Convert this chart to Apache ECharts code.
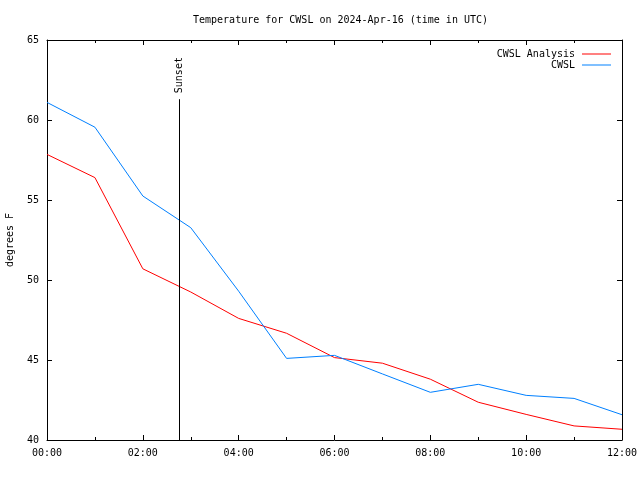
<!DOCTYPE html>
<html>
<head>
<meta charset="utf-8">
<script src="https://cdn.jsdelivr.net/npm/echarts@6/dist/echarts.min.js"></script>
<style>html,body{margin:0;padding:0;background:#fff}#c{width:640px;height:480px}</style>
</head>
<body>
<div id="c"></div>
<script>
var hours = [0,1,2,3,4,5,6,7,8,9,10,11,12];
var analysis = [57.85,56.4,50.7,49.25,47.6,46.67,45.15,44.8,43.8,42.36,41.6,40.88,40.67];
var observed = [61.1,59.55,55.25,53.27,49.3,45.1,45.29,44.13,42.98,43.48,42.79,42.6,41.58];
var sunsetHour = 2.76;
var sunsetTop = 61.3;
var titleText = 'Temperature for CWSL on 2024-Apr-16 (time in UTC)';
var FONT = 'DejaVu Sans Mono';

function pairs(ys){ return hours.map(function(h,i){ return [h, ys[i]]; }); }
function fmt(v){ var h = Math.round(v); return (h<10?'0':'')+h+':00'; }

var axisCommon = {
  axisLine:{show:true, onZero:false, lineStyle:{color:'#000', width:1}},
  axisTick:{show:true, inside:true, length:5, lineStyle:{color:'#000'}},
  splitLine:{show:false}
};

var chart = echarts.init(document.getElementById('c'), null, {renderer:'canvas'});
chart.setOption({
  animation:false,
  backgroundColor:'#fff',
  title:{text:titleText, left:188, top:10, textStyle:{fontFamily:FONT, fontSize:10, fontWeight:'normal', color:'#000'}},
  grid:{left:47, right:18, top:40, bottom:40, containLabel:false, outerBoundsMode:'none'},
  legend:{
    right:24, top:43.5, orient:'vertical', align:'right', itemWidth:29, itemHeight:1, itemGap:0,
    icon:'rect',
    textStyle:{fontFamily:FONT, fontSize:10, color:'#000', padding:[0,2,0,0], lineHeight:11},
    data:['CWSL Analysis','CWSL']
  },
  xAxis:[
    Object.assign({}, axisCommon, {type:'value', min:0, max:12, interval:2, position:'bottom',
      minorTick:{show:true, splitNumber:2, length:3, lineStyle:{color:'#000'}},
      axisLabel:{formatter:fmt, fontFamily:FONT, fontSize:10, color:'#000', margin:8}}),
    Object.assign({}, axisCommon, {type:'value', min:0, max:12, interval:2, position:'top',
      minorTick:{show:true, splitNumber:2, length:3, lineStyle:{color:'#000'}},
      axisLabel:{show:false}})
  ],
  yAxis:[
    Object.assign({}, axisCommon, {type:'value', min:40, max:65, interval:5, position:'left',
      name:'degrees F', nameLocation:'middle', nameGap:32, nameRotate:90,
      nameTextStyle:{fontFamily:FONT, fontSize:10, color:'#000'},
      axisLabel:{fontFamily:FONT, fontSize:10, color:'#000', margin:8}}),
    Object.assign({}, axisCommon, {type:'value', min:40, max:65, interval:5, position:'right',
      axisLabel:{show:false}})
  ],
  series:[
    {name:'CWSL Analysis', type:'line', data:pairs(analysis), symbol:'none',
      lineStyle:{color:'#ff0000', width:1}, itemStyle:{color:'#ff0000'},
      markLine:{silent:true, symbol:['none','none'], label:{show:false},
        lineStyle:{color:'#000', width:1, type:'solid'},
        data:[[{coord:[sunsetHour,40]},{coord:[sunsetHour,sunsetTop]}]]},
      markPoint:{symbol:'circle', symbolSize:0, silent:true,
        label:{show:true, formatter:'Sunset', position:'top', distance:6, rotate:90, align:'left', verticalAlign:'middle',
          fontFamily:FONT, fontSize:10, color:'#000'},
        data:[{coord:[sunsetHour,sunsetTop]}]}
    },
    {name:'CWSL', type:'line', data:pairs(observed), symbol:'none',
      lineStyle:{color:'#0080ff', width:1}, itemStyle:{color:'#0080ff'}}
  ]
});
</script>
</body>
</html>
